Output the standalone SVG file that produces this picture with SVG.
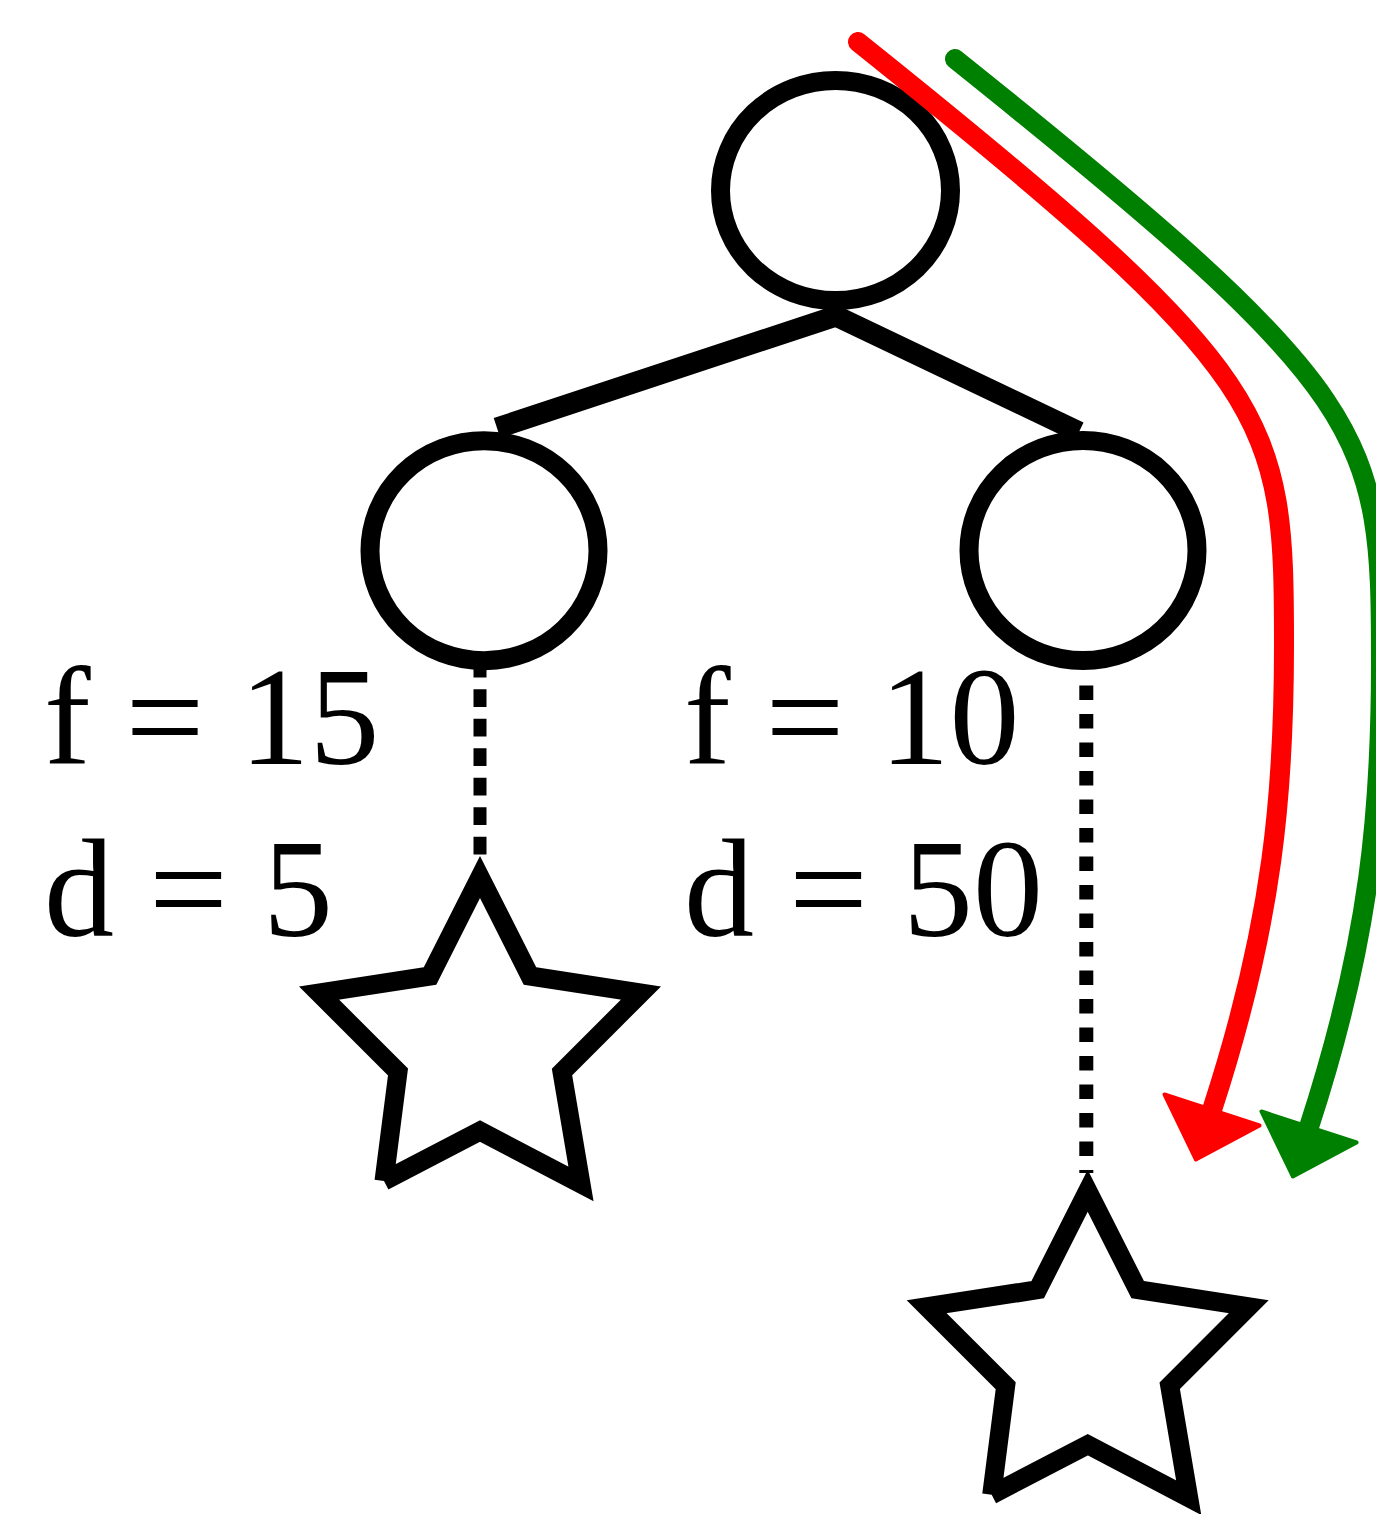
<svg xmlns="http://www.w3.org/2000/svg" width="1376" height="1514" viewBox="0 0 1376 1514">
<style>
.node{fill:#fff;stroke:#000;stroke-width:19}
.edge{fill:none;stroke:#000;stroke-width:21;stroke-linejoin:miter}
.dash{stroke:#000}
.star{fill:none;stroke:#000;stroke-width:19;stroke-linejoin:miter;stroke-miterlimit:10}
.curve{fill:none;stroke-width:20;stroke-linecap:round}
.lbl{font-family:"Liberation Serif","Times New Roman",serif;font-size:140px;fill:#000}
</style>
<defs>
<marker id="headRed" markerUnits="userSpaceOnUse" orient="auto" refX="0" refY="0" overflow="visible">
<path d="M0,-50 L52,0 L0,50 Z" fill="#ff0000" stroke="#ff0000" stroke-width="4" stroke-linejoin="round"/>
</marker>
<marker id="headGreen" markerUnits="userSpaceOnUse" orient="auto" refX="0" refY="0" overflow="visible">
<path d="M0,-50 L52,0 L0,50 Z" fill="#008000" stroke="#008000" stroke-width="4" stroke-linejoin="round"/>
</marker>
<path id="starShape" class="star" d="M384,1181 L398,1072 L319,993 L430,976 L480,877 L530,976 L641,993 L562,1072 L581,1184 L480,1131 L384,1181"/>
</defs>
<g id="root"><ellipse class="node" cx="835.5" cy="190.5" rx="115" ry="110"/></g>
<g id="left"><ellipse class="node" cx="484" cy="550.7" rx="114" ry="110"/>
<text class="lbl" x="44" y="764">f = 15</text>
<text class="lbl" x="44" y="936">d = 5</text></g>
<g id="right"><ellipse class="node" cx="1083" cy="550.5" rx="114" ry="110"/>
<text class="lbl" x="684" y="764">f = 10</text>
<text class="lbl" x="684" y="936">d = 50</text></g>
<g id="star-left"><use href="#starShape"/></g>
<g id="star-right"><use href="#starShape" transform="translate(607.7,313.7)"/></g>
<g id="connectors">
<path class="edge" d="M497,428 L836,316 L1079,432"/>
<line class="dash" x1="480" y1="659.8" x2="480" y2="856" stroke-width="13" stroke-dasharray="17.7 11.8"/>
<line class="dash" x1="1086.3" y1="685.5" x2="1086.3" y2="1173" stroke-width="14" stroke-dasharray="14.5 14"/>
<path class="curve" stroke="#ff0000" marker-end="url(#headRed)" d="M858,42 C1278,378 1284,415 1284,645 C1284,790 1274,920 1212,1110"/>
<path class="curve" stroke="#008000" marker-end="url(#headGreen)" d="M955,59 C1375,395 1381,432 1381,662 C1381,807 1371,937 1309,1127"/>
</g>
</svg>
